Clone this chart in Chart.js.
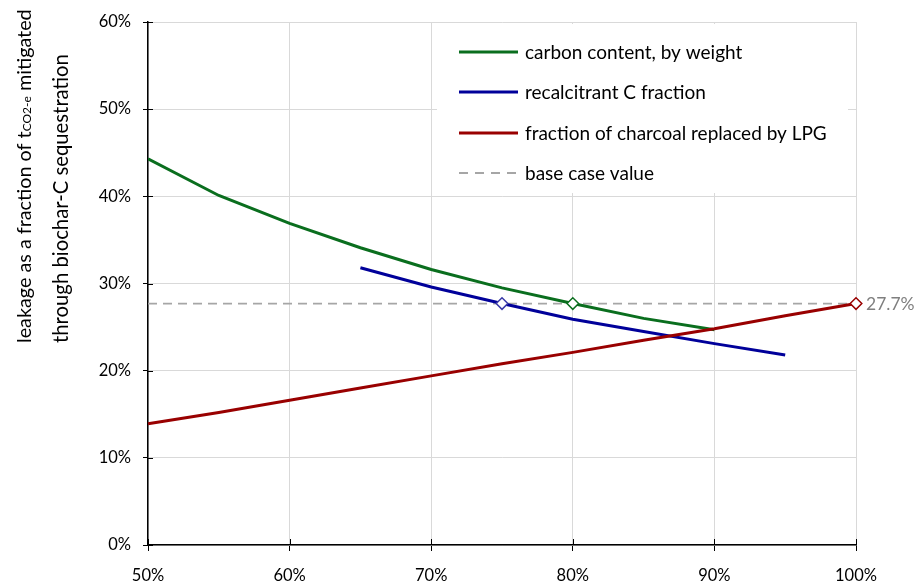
<!DOCTYPE html>
<html>
<head>
<meta charset="utf-8">
<script src="https://cdn.jsdelivr.net/npm/chart.js@4/dist/chart.umd.min.js"></script>
<style>
  html, body { margin: 0; padding: 0; background: #fff; }
  #wrap { width: 920px; height: 584px; }
</style>
</head>
<body>
<div id="wrap"><canvas id="c" width="920" height="584"></canvas></div>
<script>
// ---- data ----
const xValues        = [50, 55, 60, 65, 70, 75, 80, 85, 90, 95, 100];
const carbonContent  = [44.3, 40.1, 36.9, 34.1, 31.6, 29.5, 27.7, 26.0, 24.7, null, null];
const recalcitrantC  = [null, null, null, 31.8, 29.6, 27.7, 25.9, 24.5, 23.1, 21.8, null];
const charcoalByLPG  = [13.9, 15.2, 16.6, 18.0, 19.4, 20.8, 22.1, 23.5, 24.8, 26.3, 27.7];
const baseCaseValue  = 27.7;
const baseCaseX      = { carbon: 80, recalcitrant: 75, lpg: 100 };
const seriesLabels   = ['carbon content, by weight', 'recalcitrant C fraction', 'fraction of charcoal replaced by LPG', 'base case value'];
const xTicks         = [50, 60, 70, 80, 90, 100];
const yTicks         = [0, 10, 20, 30, 40, 50, 60];
const yTitleLine1    = ['leakage as a fraction of t', 'CO2-e', ' mitigated'];
const yTitleLine2    = 'through biochar-C sequestration';

const COLORS = { green: '#0a6e1e', blue: '#00009a', red: '#990000', dash: '#a6a6a6' };
const FONT = 'Lato, "Open Sans", sans-serif';

function pts(arr) {
  const out = [];
  arr.forEach((v, i) => { if (v !== null) out.push({ x: xValues[i], y: v }); });
  return out;
}
function markerAt(bx) {
  return (ctx) => (ctx.raw && ctx.raw.x === bx) ? 5.8 : 0;
}

const legendPlugin = {
  id: 'boxLegend',
  beforeDatasetsDraw(chart) {
    const c = chart.ctx;
    c.save();
    c.fillStyle = '#ffffff';
    c.fillRect(437, 24, 411, 169);
    const items = [
      { color: COLORS.green, dash: [] },
      { color: COLORS.blue, dash: [] },
      { color: COLORS.red, dash: [] },
      { color: COLORS.dash, dash: [9, 7] }
    ];
    const ys = [52, 92, 133, 173];
    items.forEach((it, i) => {
      c.beginPath();
      c.setLineDash(it.dash);
      c.strokeStyle = it.color;
      c.lineWidth = it.dash.length ? 2 : 3;
      c.moveTo(459, ys[i]);
      c.lineTo(518, ys[i]);
      c.stroke();
      c.setLineDash([]);
      c.fillStyle = '#000';
      c.font = '19px ' + FONT;
      c.textAlign = 'left';
      c.textBaseline = 'middle';
      c.fillText(seriesLabels[i], 525, ys[i] + 1);
    });
    c.restore();
  },
  afterDraw(chart) {
    const c = chart.ctx;
    const xs = chart.scales.x, ys = chart.scales.y;
    const area = chart.chartArea;
    c.save();
    // inner tick marks (crossing ticks)
    c.strokeStyle = '#000';
    c.lineWidth = 1;
    yTicks.forEach(v => {
      const py = Math.round(ys.getPixelForValue(v)) + 0.5;
      c.beginPath(); c.moveTo(area.left, py); c.lineTo(area.left + 5, py); c.stroke();
    });
    xTicks.forEach(v => {
      const px = Math.round(xs.getPixelForValue(v)) + 0.5;
      c.beginPath(); c.moveTo(px, area.bottom); c.lineTo(px, area.bottom - 6); c.stroke();
    });
    // base case label
    c.fillStyle = '#7f7f7f';
    c.font = '17.5px ' + FONT;
    c.textAlign = 'left';
    c.textBaseline = 'middle';
    c.fillText(baseCaseValue.toFixed(1) + '%', xs.getPixelForValue(baseCaseX.lpg) + 10, ys.getPixelForValue(baseCaseValue) + 1);
    // y axis title (rotated, with subscript)
    c.fillStyle = '#000';
    const startY = 343;
    // line 1
    c.save();
    c.translate(25, startY);
    c.rotate(-Math.PI / 2);
    c.textAlign = 'left';
    c.textBaseline = 'middle';
    let cx = 0;
    c.font = '19.8px ' + FONT;
    c.fillText(yTitleLine1[0], cx, 0);
    cx += c.measureText(yTitleLine1[0]).width;
    c.font = '12px ' + FONT;
    c.fillText(yTitleLine1[1], cx, 2);
    cx += c.measureText(yTitleLine1[1]).width;
    c.font = '19.8px ' + FONT;
    c.fillText(yTitleLine1[2], cx, 0);
    c.restore();
    // line 2
    c.save();
    c.translate(61, startY);
    c.rotate(-Math.PI / 2);
    c.textAlign = 'left';
    c.textBaseline = 'middle';
    c.font = '20.3px ' + FONT;
    c.fillText(yTitleLine2, 0, 0);
    c.restore();
    c.restore();
  }
};

new Chart(document.getElementById('c'), {
  type: 'line',
  data: {
    datasets: [
      {
        label: seriesLabels[0], data: pts(carbonContent),
        borderColor: COLORS.green, borderWidth: 3, backgroundColor: '#fff',
        pointStyle: 'rectRot', pointRadius: markerAt(baseCaseX.carbon), pointBorderWidth: 1.5,
        pointBorderColor: COLORS.green, pointBackgroundColor: '#fff', order: 2
      },
      {
        label: seriesLabels[1], data: pts(recalcitrantC),
        borderColor: COLORS.blue, borderWidth: 3, backgroundColor: '#fff',
        pointStyle: 'rectRot', pointRadius: markerAt(baseCaseX.recalcitrant), pointBorderWidth: 1.5,
        pointBorderColor: '#3a3aa8', pointBackgroundColor: '#fff', order: 3
      },
      {
        label: seriesLabels[2], data: pts(charcoalByLPG),
        borderColor: COLORS.red, borderWidth: 3, backgroundColor: '#fff',
        pointStyle: 'rectRot', pointRadius: markerAt(baseCaseX.lpg), pointBorderWidth: 1.5,
        pointBorderColor: COLORS.red, pointBackgroundColor: '#fff', order: 1, clip: 12
      },
      {
        label: seriesLabels[3], data: [{ x: xValues[0], y: baseCaseValue }, { x: xValues[xValues.length - 1], y: baseCaseValue }],
        borderColor: COLORS.dash, borderWidth: 1.8, borderDash: [9, 6],
        pointRadius: 0, order: 10
      }
    ]
  },
  options: {
    responsive: false,
    animation: false,
    devicePixelRatio: 1,
    layout: { padding: { left: 0, right: 64, top: 22, bottom: 0 } },
    plugins: { legend: { display: false }, tooltip: { enabled: false } },
    elements: { line: { tension: 0 } },
    scales: {
      x: {
        type: 'linear', min: 50, max: 100,
        afterBuildTicks: (s) => { s.ticks = xTicks.map(v => ({ value: v })); },
        afterFit: (s) => { s.height = 39; },
        grid: { color: '#d9d9d9', lineWidth: 1, tickColor: '#000', tickLength: 6, drawTicks: true },
        border: { color: '#000', width: 1.5 },
        ticks: { color: '#000', font: { family: FONT, size: 16.5 }, padding: 15, maxRotation: 0, callback: (v) => v + '%' }
      },
      y: {
        type: 'linear', min: 0, max: 60,
        afterBuildTicks: (s) => { s.ticks = yTicks.map(v => ({ value: v })); },
        afterFit: (s) => { s.width = 148; },
        grid: { color: '#d9d9d9', lineWidth: 1, tickColor: '#000', tickLength: 5 },
        border: { color: '#000', width: 1.5 },
        ticks: { color: '#000', font: { family: FONT, size: 16.5 }, padding: 12, callback: (v) => v + '%' }
      }
    }
  },
  plugins: [legendPlugin]
});
</script>
</body>
</html>
